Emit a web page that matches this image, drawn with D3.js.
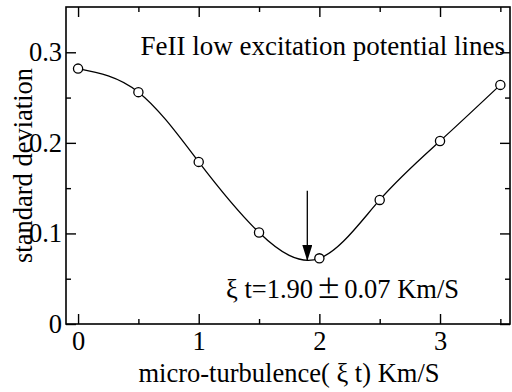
<!DOCTYPE html>
<html>
<head>
<meta charset="utf-8">
<script src="https://cdn.jsdelivr.net/npm/d3@7"></script>
<style>
  body { margin: 0; background: #fff; }
  svg text { font-family: "Liberation Serif", "Times New Roman", serif; fill: #000; }
</style>
</head>
<body>
<figure id="chart" style="margin:0"></figure>
<script>
// data
var turbulence = [0, 0.5, 1, 1.5, 2, 2.5, 3, 3.5];
var stdDev = [0.282, 0.256, 0.179, 0.101, 0.0725, 0.137, 0.202, 0.264];
var xMajor = [0, 1, 2, 3];
var xMinor = [0.5, 1.5, 2.5, 3.5];
var yMajor = [0, 0.1, 0.2, 0.3];
var yMinor = [0.05, 0.15, 0.25];
var bestValue = 1.9, bestLow = 0.0695, arrowTop = 0.147;

var W = 512, H = 392;
var margin = {top: 7, right: 2, bottom: 68, left: 66},
    width = W - margin.left - margin.right,
    height = H - margin.top - margin.bottom;

var svg = d3.select("figure#chart")
  .append("svg")
    .attr("width", W)
    .attr("height", H)
  .append("g")
    .attr("transform", "translate(" + margin.left + "," + margin.top + ")");

var x = d3.scaleLinear().domain([-0.1, 3.58]).range([0, width]);
var y = d3.scaleLinear().domain([0, 0.35]).range([height, 0]);

function fmtY(d) { return d === 0 ? "0" : d3.format(".1f")(d); }

// major + minor ticks on all four sides, pointing inward
function ticks(axisFn, vals, len, labelled, tr, fmt) {
  var a = axisFn.tickValues(vals).tickSize(-len).tickSizeOuter(0);
  if (labelled) a.tickFormat(fmt).tickPadding(labelled); else a.tickFormat("");
  var g = svg.append("g").attr("transform", tr || null).call(a);
  g.select(".domain").remove();
  g.selectAll("line").attr("stroke", "#000").attr("stroke-width", 1.4);
  g.selectAll("text").style("font-size", "26.5px").attr("fill", "#000");
  return g;
}
ticks(d3.axisBottom(x), xMajor, 10, 7, "translate(0," + height + ")", d3.format("d"));
ticks(d3.axisBottom(x), xMinor, 5, 0, "translate(0," + height + ")");
ticks(d3.axisTop(x), xMajor, 10, 0);
ticks(d3.axisTop(x), xMinor, 5, 0);
ticks(d3.axisLeft(y), yMajor, 10, 4, null, fmtY);
ticks(d3.axisLeft(y), yMinor, 5, 0);
ticks(d3.axisRight(y), yMajor, 10, 0, "translate(" + width + ",0)");
ticks(d3.axisRight(y), yMinor, 5, 0, "translate(" + width + ",0)");

// frame
svg.append("rect")
  .attr("width", width).attr("height", height)
  .attr("fill", "none").attr("stroke", "#000").attr("stroke-width", 1.6);

var data = turbulence.map(function(t, i) { return {t: t, s: stdDev[i]}; });

// smooth curve
svg.append("path")
  .datum(data)
  .attr("fill", "none")
  .attr("stroke", "#000")
  .attr("stroke-width", 1.3)
  .attr("d", d3.line()
    .curve(d3.curveNatural)
    .x(function(d) { return x(d.t); })
    .y(function(d) { return y(d.s); }));

svg.selectAll("circle.pt")
  .data(data)
  .enter().append("circle")
    .attr("class", "pt")
    .attr("cx", function(d) { return x(d.t); })
    .attr("cy", function(d) { return y(d.s); })
    .attr("r", 4.6)
    .attr("fill", "#fff")
    .attr("stroke", "#000")
    .attr("stroke-width", 1.3);

// arrow at the minimum
svg.append("defs").append("marker")
  .attr("id", "head")
  .attr("viewBox", "0 0 10 16")
  .attr("refX", 10 / 2).attr("refY", 16)
  .attr("markerUnits", "userSpaceOnUse")
  .attr("markerWidth", 10).attr("markerHeight", 16)
  .attr("orient", "0")
  .append("path").attr("d", "M0,0L10,0L5,16Z").attr("fill", "#000");
svg.append("line")
  .attr("x1", x(bestValue)).attr("x2", x(bestValue))
  .attr("y1", y(arrowTop)).attr("y2", y(bestLow))
  .attr("stroke", "#000").attr("stroke-width", 1.3)
  .attr("marker-end", "url(#head)");

// texts
svg.append("text")
  .attr("x", width - 5).attr("y", 48)
  .attr("text-anchor", "end")
  .style("font-size", "27px")
  .text("FeII low excitation potential lines");

var note = svg.append("text")
  .attr("x", 160).attr("y", 291)
  .style("font-size", "26.5px");
note.append("tspan").text("ξ t=1.90");
note.append("tspan").attr("dx", 3).style("font-family", "Noto Sans CJK JP").style("font-size", "25px").text("±");
note.append("tspan").attr("dx", 3).text("0.07 Km/S");

svg.append("text")
  .attr("x", 223).attr("y", 375)
  .attr("text-anchor", "middle")
  .style("font-size", "26.5px")
  .text("micro-turbulence( ξ t) Km/S");

svg.append("text")
  .attr("transform", "translate(-34," + (165.5 - margin.top) + ") rotate(-90)")
  .attr("text-anchor", "middle")
  .style("font-size", "26.5px")
  .text("standard deviation");
</script>
</body>
</html>
